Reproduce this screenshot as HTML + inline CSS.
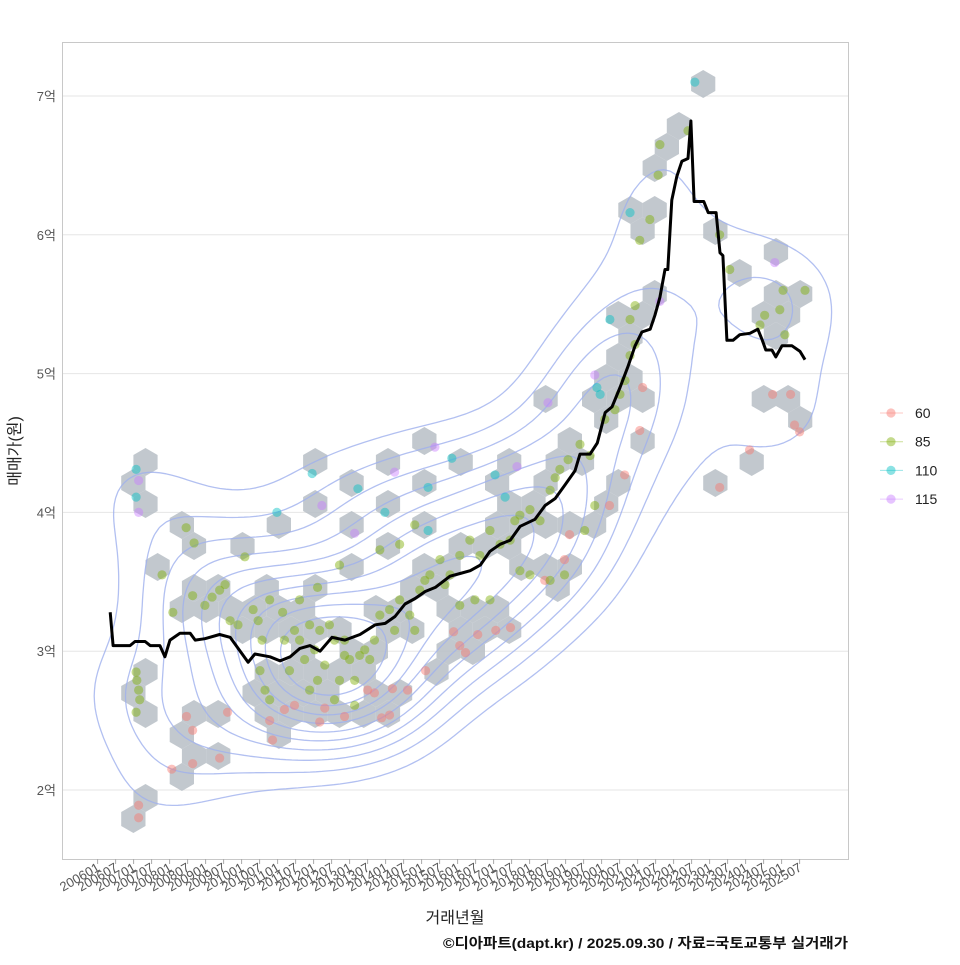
<!DOCTYPE html>
<html><head><meta charset="utf-8"><style>
body{margin:0;background:#fff;}
svg text{font-family:"Liberation Sans","Noto Sans CJK KR",sans-serif;}
</style></head><body>
<svg id="chart" width="960" height="960" xmlns="http://www.w3.org/2000/svg">
<rect x="0" y="0" width="960" height="960" fill="#fff"/>
<g id="grid"></g>
<g id="hex"></g>
<g id="contour"></g>
<g id="pts"></g>
<g id="line"></g>
<rect x="62.5" y="42.5" width="786" height="817" fill="none" stroke="#c8c8c8"/>
<g id="axes"></g>
<text x="20" y="451" font-size="16" fill="#222" text-anchor="middle" transform="rotate(-90 20 451)">매매가(원)</text>
<text x="455" y="923" font-size="16" fill="#222" text-anchor="middle">거래년월</text>
<text x="443" y="948" font-size="14" font-weight="bold" fill="#111" textLength="405" lengthAdjust="spacingAndGlyphs">©디아파트(dapt.kr) / 2025.09.30 / 자료=국토교통부 실거래가</text>
<g id="legend"></g>
</svg>
<script>
const yTicks=[2,3,4,5,6,7];
const yTickLabels=["2억","3억","4억","5억","6억","7억"];
const xTickLabels=[];
for(let y=2006;y<=2025;y++){xTickLabels.push(y+"01");xTickLabels.push(y+"07");}
const sizeTypes=["60","85","110","115"];
const sizeColors=["#F8766D","#7CAE00","#00BFC4","#C77CFF"];
// scatter data: [year-decimal, price(억)]
const pts60=[[2007.14,1.89],[2007.14,1.80],[2008.47,2.53],[2008.64,2.43],[2008.06,2.15],[2008.64,2.19],[2009.39,2.23],[2009.61,2.56],[2010.78,2.50],[2010.86,2.36],[2011.19,2.58],[2011.47,2.61],[2012.17,2.49],[2012.31,2.59],[2012.86,2.53],[2013.50,2.72],[2013.69,2.70],[2013.89,2.52],[2014.11,2.54],[2014.19,2.73],[2014.61,2.72],[2015.11,2.86],[2015.89,3.14],[2016.06,3.04],[2016.22,2.99],[2016.56,3.12],[2017.06,3.15],[2017.47,3.17],[2018.42,3.51],[2018.97,3.66],[2019.11,3.84],[2020.22,4.05],[2020.64,4.27],[2021.06,4.59],[2021.14,4.90],[2023.28,4.18],[2024.11,4.45],[2024.75,4.85],[2025.25,4.85],[2025.36,4.63],[2025.50,4.58]];
const pts85=[[2007.07,2.85],[2007.09,2.79],[2007.14,2.72],[2007.17,2.65],[2007.07,2.56],[2007.79,3.55],[2008.09,3.28],[2008.46,3.89],[2008.68,3.78],[2008.64,3.40],[2008.98,3.33],[2009.18,3.39],[2009.39,3.44],[2009.54,3.48],[2010.09,3.68],[2010.32,3.30],[2010.46,3.22],[2010.57,3.08],[2010.51,2.86],[2010.65,2.72],[2010.78,2.65],[2011.19,3.08],[2011.47,3.15],[2011.61,3.08],[2011.89,3.19],[2012.03,3.01],[2012.17,3.15],[2012.44,3.19],[2012.58,3.08],[2012.86,3.08],[2013.00,2.94],[2013.14,2.79],[2013.28,2.97],[2013.42,3.01],[2013.69,3.08],[2013.84,3.26],[2014.11,3.30],[2014.25,3.15],[2014.39,3.37],[2014.67,3.26],[2014.81,3.15],[2014.95,3.44],[2015.09,3.51],[2015.23,3.55],[2015.51,3.66],[2015.65,3.48],[2015.79,3.55],[2016.06,3.69],[2016.34,3.80],[2016.62,3.69],[2016.90,3.87],[2017.18,3.77],[2017.46,3.80],[2017.59,3.94],[2017.73,3.98],[2018.01,4.02],[2018.29,3.94],[2018.57,4.16],[2018.71,4.25],[2018.84,4.31],[2019.07,4.38],[2019.40,4.49],[2019.68,4.41],[2020.09,4.67],[2020.37,4.74],[2020.51,4.85],[2020.65,4.95],[2020.79,5.13],[2020.93,5.21],[2020.79,5.39],[2020.93,5.49],[2021.06,5.96],[2021.34,6.11],[2021.62,6.65],[2021.57,6.43],[2022.40,6.75],[2023.28,6.00],[2023.56,5.75],[2024.53,5.42],[2024.95,5.46],[2025.09,5.28],[2025.65,5.60],[2025.04,5.60],[2024.40,5.35],[2012.72,3.62],[2014.81,3.91],[2016.06,3.33],[2016.48,3.37],[2016.90,3.37],[2013.84,3.73],[2014.39,3.77],[2011.61,3.37],[2012.11,3.46],[2010.78,3.37],[2011.14,3.28],[2009.68,3.22],[2009.90,3.19],[2012.11,2.79],[2012.72,2.79],[2017.73,3.58],[2018.01,3.55],[2018.57,3.51],[2018.97,3.55],[2019.53,3.87],[2019.81,4.05],[2011.75,2.94],[2012.31,2.90],[2012.86,2.97],[2013.56,2.94],[2011.33,2.86],[2011.89,2.72],[2012.58,2.65],[2013.14,2.61]];
const pts110=[[2007.07,4.31],[2007.07,4.11],[2010.98,4.00],[2011.96,4.28],[2013.23,4.17],[2013.98,4.00],[2015.18,4.18],[2015.18,3.87],[2015.84,4.39],[2017.04,4.27],[2017.32,4.11],[2019.87,4.90],[2020.23,5.39],[2020.79,6.16],[2022.59,7.10],[2019.96,4.85]];
const pts115=[[2007.14,4.23],[2007.14,4.00],[2012.23,4.05],[2013.14,3.85],[2014.25,4.29],[2015.37,4.47],[2017.65,4.33],[2018.51,4.79],[2019.81,4.99],[2021.62,5.52],[2024.81,5.80]];
// median line
const lineYears=[2006.35,2006.43,2006.90,2007.04,2007.32,2007.46,2007.73,2007.87,2008.01,2008.29,2008.57,2008.71,2008.98,2009.39,2009.68,2009.96,2010.18,2010.37,2010.79,2011.07,2011.35,2011.62,2011.90,2012.18,2012.51,2012.87,2013.29,2013.71,2013.99,2014.26,2014.54,2014.82,2015.10,2015.38,2015.79,2016.07,2016.35,2016.63,2016.90,2017.18,2017.46,2017.74,2018.15,2018.43,2018.71,2018.99,2019.26,2019.40,2019.68,2019.88,2020.10,2020.29,2020.51,2020.73,2020.93,2021.12,2021.35,2021.48,2021.62,2021.76,2021.84,2021.95,2022.09,2022.23,2022.40,2022.48,2022.57,2022.84,2022.96,2023.18,2023.29,2023.37,2023.48,2023.65,2023.84,2024.12,2024.34,2024.45,2024.56,2024.73,2024.84,2025.01,2025.29,2025.51,2025.65];
const lineValues=[3.28,3.04,3.04,3.07,3.07,3.04,3.04,2.96,3.08,3.13,3.13,3.08,3.09,3.12,3.10,3.00,2.92,2.98,2.96,2.93,2.96,3.02,3.04,3.00,3.10,3.08,3.12,3.19,3.20,3.25,3.34,3.38,3.43,3.46,3.54,3.56,3.58,3.62,3.72,3.77,3.80,3.90,3.95,4.05,4.10,4.20,4.30,4.42,4.42,4.50,4.72,4.76,4.90,5.05,5.20,5.30,5.32,5.42,5.55,5.75,5.75,6.25,6.42,6.53,6.55,6.82,6.24,6.24,6.16,6.16,5.87,5.85,5.24,5.24,5.28,5.29,5.32,5.25,5.17,5.17,5.12,5.20,5.20,5.16,5.10];

const NS="http://www.w3.org/2000/svg";
const X=yr=>97.6+(yr-2006)*36;
const Y=v=>790-(v-2)*138.8;
function mk(tag,attrs,parent){const e=document.createElementNS(NS,tag);for(const k in attrs)e.setAttribute(k,attrs[k]);parent.appendChild(e);return e;}
const grid=document.getElementById('grid'),axes=document.getElementById('axes');
yTicks.forEach((t,i)=>{
  const l=mk('line',{x1:62,x2:849,y1:Y(t),y2:Y(t),stroke:'#e6e6e6','stroke-width':1},grid);
  
  
  const tx=mk('text',{x:56,y:Y(t)+5,'font-size':13,fill:'#555','text-anchor':'end'},axes);
  tx.textContent=yTickLabels[i];
  
  
});
xTickLabels.forEach((lab,i)=>{
  const x=X(2006+i*0.5);
  const tk=mk('line',{x1:x,x2:x,y1:859,y2:864,stroke:'#aaa'},axes);
  
  
  const tx=mk('text',{x:x+3,y:870,'font-size':13,fill:'#555','text-anchor':'end',transform:`rotate(-30 ${x+3} 870)`},axes);
  tx.textContent=lab;
  
  
});
const allSets=[pts60,pts85,pts110,pts115];
const allPx=[];allSets.forEach(s=>s.forEach(p=>allPx.push([X(p[0]),Y(p[1])])));
// hexbin
const R=14,W=Math.sqrt(3)*R,H=1.5*R;const bins={};
allPx.forEach(([px,py])=>{
  let best=null,bd=1e9;const r0=Math.round(py/H);
  for(let r=r0-1;r<=r0+1;r++){const off=(r&1)?W/2:0;const c0=Math.round((px-off)/W);
    for(let c=c0-1;c<=c0+1;c++){const cx=c*W+off,cy=r*H;const d=(cx-px)**2+(cy-py)**2;if(d<bd){bd=d;best=[cx,cy];}}}
  bins[best[0].toFixed(1)+','+best[1].toFixed(1)]=best;
});
const hexG=document.getElementById('hex');
Object.values(bins).forEach(([cx,cy])=>{
  let d='';for(let k=0;k<6;k++){const a=Math.PI/180*(60*k-30);d+=(k?'L':'M')+(cx+R*Math.cos(a)).toFixed(1)+' '+(cy+R*Math.sin(a)).toFixed(1);}
  const h=mk('path',{d:d+'Z',fill:'#b7bec5','fill-opacity':0.85},hexG);
  
  
});
// KDE contours
const gx0=40,gx1=900,gy0=30,gy1=880,st=6,bx=55,by=48;
const nx=Math.floor((gx1-gx0)/st)+1,ny=Math.floor((gy1-gy0)/st)+1;const Z=[];let zmax=0;
for(let j=0;j<ny;j++){Z[j]=[];for(let i=0;i<nx;i++){const x=gx0+i*st,y=gy0+j*st;let s=0;
  for(const [px,py] of allPx){const dx=(x-px)/bx,dy=(y-py)/by;const q=dx*dx+dy*dy;if(q<16)s+=Math.exp(-q/2);}
  Z[j][i]=s;if(s>zmax)zmax=s;}}
const cg=document.getElementById('contour');
const levels=[];for(let k=0;k<10;k++)levels.push(zmax*(0.14+k*0.08));
levels.forEach(lv=>{
  let d='';
  for(let j=0;j<ny-1;j++)for(let i=0;i<nx-1;i++){
    const v=[Z[j][i],Z[j][i+1],Z[j+1][i+1],Z[j+1][i]];
    const c=[[gx0+i*st,gy0+j*st],[gx0+(i+1)*st,gy0+j*st],[gx0+(i+1)*st,gy0+(j+1)*st],[gx0+i*st,gy0+(j+1)*st]];
    const ps=[];
    for(let e=0;e<4;e++){const a=v[e],b=v[(e+1)%4];if((a>=lv)!==(b>=lv)){const t=(lv-a)/(b-a);const p=c[e],q=c[(e+1)%4];ps.push([p[0]+t*(q[0]-p[0]),p[1]+t*(q[1]-p[1])]);}}
    for(let k=0;k+1<ps.length;k+=2)d+=`M${ps[k][0].toFixed(1)} ${ps[k][1].toFixed(1)}L${ps[k+1][0].toFixed(1)} ${ps[k+1][1].toFixed(1)}`;
  }
  const p=mk('path',{d,fill:'none',stroke:'#9fb0ee','stroke-width':1.3,'stroke-opacity':0.8},cg);
  
  
});
const ptsG=document.getElementById('pts');
allSets.forEach((s,si)=>s.forEach(p=>{
  const c=mk('circle',{cx:X(p[0]),cy:Y(p[1]),r:4.6,fill:sizeColors[si],'fill-opacity':0.45},ptsG);
  
  
}));
const lp=mk('polyline',{points:lineYears.map((yr,i)=>X(yr).toFixed(1)+','+Y(lineValues[i]).toFixed(1)).join(' '),fill:'none',stroke:'#000','stroke-width':3,'stroke-linejoin':'round'},document.getElementById('line'));


const lg=document.getElementById('legend');
sizeTypes.forEach((t,i)=>{
  const y=413+i*28.7;
  const l=mk('line',{x1:880,x2:903,y1:y,y2:y,stroke:sizeColors[i],'stroke-opacity':0.4},lg);
  
  
  const c=mk('circle',{cx:891,cy:y,r:4.6,fill:sizeColors[i],'fill-opacity':0.45},lg);
  
  
  const tx=mk('text',{x:915,y:y+5,'font-size':14,fill:'#222'},lg);
  tx.textContent=t;
  
  
});
</script>
</body></html>
